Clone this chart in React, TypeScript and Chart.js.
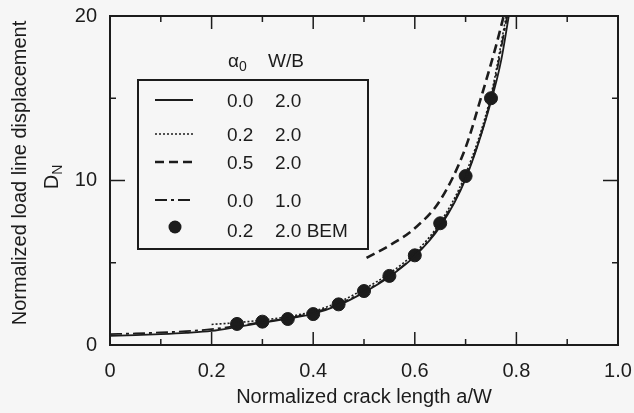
import React, { useEffect, useRef } from "react";
import { Chart, registerables } from "chart.js";

Chart.register(...registerables);

// x positions (a/W) and normalized displacement D_N
const solidX = [0, 0.05, 0.1, 0.15, 0.2, 0.25, 0.3, 0.35, 0.4, 0.45, 0.5, 0.55, 0.6, 0.65, 0.7, 0.75, 0.77, 0.785];
const solidY = [0.55, 0.6, 0.66, 0.74, 0.86, 1.1, 1.36, 1.6, 1.9, 2.42, 3.2, 4.15, 5.4, 7.2, 10.1, 14.8, 17.3, 20];

const dottedX = [0.2, 0.25, 0.3, 0.35, 0.4, 0.45, 0.5, 0.55, 0.6, 0.65, 0.7, 0.75, 0.78];
const dottedY = [1.25, 1.36, 1.52, 1.72, 2.05, 2.6, 3.4, 4.35, 5.6, 7.45, 10.4, 15.2, 20];

const dashedX = [0.505, 0.55, 0.6, 0.65, 0.7, 0.73, 0.76, 0.775];
const dashedY = [5.3, 6.05, 7.1, 8.8, 12.0, 15.0, 18.2, 20];

const dashDotX = [0, 0.05, 0.1, 0.15, 0.2, 0.25, 0.3, 0.35, 0.4, 0.45, 0.5, 0.55, 0.6, 0.65, 0.7, 0.75, 0.782];
const dashDotY = [0.66, 0.7, 0.76, 0.84, 0.96, 1.16, 1.4, 1.63, 1.95, 2.48, 3.25, 4.2, 5.45, 7.3, 10.2, 15.0, 20];

const bemX = [0.25, 0.3, 0.35, 0.4, 0.45, 0.5, 0.55, 0.6, 0.65, 0.7, 0.75];
const bemY = [1.28, 1.42, 1.58, 1.88, 2.47, 3.28, 4.2, 5.45, 7.4, 10.27, 15.0];

const xTickLabels = ["0", "0.2", "0.4", "0.6", "0.8", "1.0"];
const yTickLabels = ["0", "10", "20"];

const legendAlpha = ["0.0", "0.2", "0.5", "0.0", "0.2"];
const legendWB = ["2.0", "2.0", "2.0", "1.0", "2.0 BEM"];

const xTitle = "Normalized crack length a/W";
const yTitle = "Normalized load line displacement";

const FONT = "'Liberation Sans', Arial, Helvetica, sans-serif";
const INK = "#1c1c1c";

const toPts = (xs: number[], ys: number[]) => xs.map((x, i) => ({ x, y: ys[i] }));

const decorPlugin = {
  id: "decor",
  afterDraw(chart: any) {
    const ctx = chart.ctx as CanvasRenderingContext2D;
    const ca = chart.chartArea;
    const xs = chart.scales.x;
    const ys = chart.scales.y;
    ctx.save();
    ctx.strokeStyle = INK;
    ctx.fillStyle = INK;
    ctx.setLineDash([]);
    // frame
    ctx.lineWidth = 2;
    ctx.strokeRect(ca.left, ca.top, ca.right - ca.left, ca.bottom - ca.top);
    // x ticks (inward, bottom and top)
    ctx.lineWidth = 1.5;
    for (let i = 1; i < 10; i++) {
      const v = i / 10;
      const px = xs.getPixelForValue(v);
      const len = i % 2 === 0 ? 13 : 6;
      ctx.beginPath();
      ctx.moveTo(px, ca.bottom);
      ctx.lineTo(px, ca.bottom - len);
      ctx.moveTo(px, ca.top);
      ctx.lineTo(px, ca.top + len);
      ctx.stroke();
    }
    // y ticks
    for (let v = 5; v < 20; v += 5) {
      const py = ys.getPixelForValue(v);
      const len = v % 10 === 0 ? 15 : 6;
      ctx.beginPath();
      ctx.moveTo(ca.left, py);
      ctx.lineTo(ca.left + len, py);
      ctx.moveTo(ca.right, py);
      ctx.lineTo(ca.right - len, py);
      ctx.stroke();
    }
    // axis titles
    ctx.font = `20px ${FONT}`;
    ctx.textAlign = "center";
    ctx.textBaseline = "middle";
    ctx.fillText(xTitle, 364, 397);
    ctx.save();
    ctx.translate(20, 173);
    ctx.rotate(-Math.PI / 2);
    ctx.fillText(yTitle, 0, 0);
    ctx.restore();
    ctx.save();
    ctx.translate(52, 177);
    ctx.rotate(-Math.PI / 2);
    ctx.textAlign = "left";
    ctx.font = `20px ${FONT}`;
    const dw = ctx.measureText("D").width;
    ctx.fillText("D", -dw / 2 - 5, 0);
    ctx.font = `14px ${FONT}`;
    ctx.fillText("N", dw / 2 - 5, 6);
    ctx.restore();

    // legend
    const bx = 138, by = 80, bw = 230, bh = 169;
    ctx.lineWidth = 2;
    ctx.strokeRect(bx, by, bw, bh);
    ctx.font = `19px ${FONT}`;
    ctx.textAlign = "left";
    ctx.textBaseline = "middle";
    ctx.fillText("\u03b1", 228, 62);
    const aw = ctx.measureText("\u03b1").width;
    ctx.font = `14px ${FONT}`;
    ctx.fillText("0", 228 + aw, 67);
    ctx.font = `19px ${FONT}`;
    ctx.fillText("W/B", 268, 62);
    const rowY = [102, 136, 164, 202, 232];
    const styles: { dash: number[]; w: number }[] = [
      { dash: [], w: 1.8 },
      { dash: [2, 2], w: 1.6 },
      { dash: [9, 5], w: 2.6 },
      { dash: [12, 4, 3, 4], w: 1.8 },
    ];
    for (let i = 0; i < 5; i++) {
      const y = rowY[i];
      if (i < 4) {
        ctx.setLineDash(styles[i].dash);
        ctx.lineWidth = styles[i].w;
        ctx.beginPath();
        ctx.moveTo(155, y - 2);
        ctx.lineTo(193, y - 2);
        ctx.stroke();
        ctx.setLineDash([]);
      } else {
        ctx.beginPath();
        ctx.arc(175, y - 5, 6.5, 0, Math.PI * 2);
        ctx.fill();
      }
      ctx.fillText(legendAlpha[i], 227, y);
      ctx.fillText(legendWB[i], 275, y);
    }
    ctx.restore();
  },
};

export default function App() {
  const ref = useRef<HTMLCanvasElement | null>(null);
  useEffect(() => {
    if (!ref.current) return;
    const tickFont = { family: FONT, size: 20 };
    const chart = new Chart(ref.current, {
      type: "scatter",
      data: {
        datasets: [
          {
            label: "0.0 2.0",
            data: toPts(solidX, solidY),
            showLine: true,
            borderColor: INK,
            borderWidth: 1.8,
            pointRadius: 0,
            cubicInterpolationMode: "monotone",
          },
          {
            label: "0.2 2.0",
            data: toPts(dottedX, dottedY),
            showLine: true,
            borderColor: INK,
            borderWidth: 1.6,
            borderDash: [2, 2],
            pointRadius: 0,
            cubicInterpolationMode: "monotone",
          },
          {
            label: "0.5 2.0",
            data: toPts(dashedX, dashedY),
            showLine: true,
            borderColor: INK,
            borderWidth: 2.6,
            borderDash: [9, 5],
            pointRadius: 0,
            cubicInterpolationMode: "monotone",
          },
          {
            label: "0.0 1.0",
            data: toPts(dashDotX, dashDotY),
            showLine: true,
            borderColor: INK,
            borderWidth: 1.8,
            borderDash: [12, 4, 3, 4],
            pointRadius: 0,
            cubicInterpolationMode: "monotone",
          },
          {
            label: "0.2 2.0 BEM",
            data: toPts(bemX, bemY),
            showLine: false,
            pointRadius: 6.5,
            pointBackgroundColor: INK,
            pointBorderColor: INK,
          },
        ],
      } as any,
      options: {
        animation: false,
        responsive: false,
        maintainAspectRatio: false,
        layout: { padding: { top: 16, right: 16, left: 0, bottom: 0 } },
        plugins: { legend: { display: false }, tooltip: { enabled: false } },
        scales: {
          x: {
            type: "linear",
            min: 0,
            max: 1,
            grid: { display: false, drawTicks: false },
            border: { display: false },
            ticks: {
              stepSize: 0.2,
              padding: 14,
              color: INK,
              font: tickFont,
              maxRotation: 0,
              callback: (v: any) => {
                const i = Math.round(Number(v) / 0.2);
                return xTickLabels[i] ?? "";
              },
            },
            afterFit: (s: any) => {
              s.height = 68;
              s.paddingLeft = 0;
              s.paddingRight = 0;
            },
          },
          y: {
            type: "linear",
            min: 0,
            max: 20,
            grid: { display: false, drawTicks: false },
            border: { display: false },
            ticks: {
              stepSize: 10,
              padding: 13,
              color: INK,
              font: tickFont,
              callback: (v: any) => {
                const i = Math.round(Number(v) / 10);
                return yTickLabels[i] ?? "";
              },
            },
            afterFit: (s: any) => {
              s.width = 110;
              s.paddingTop = 0;
              s.paddingBottom = 0;
            },
          },
        },
      },
      plugins: [decorPlugin],
    });
    return () => chart.destroy();
  }, []);
  return (
    <div style={{ position: "fixed", left: 0, top: 0, width: 634, height: 413, background: "#f6f6f6" }}>
      <canvas ref={ref} width={634} height={413} style={{ width: 634, height: 413, display: "block" }} />
    </div>
  );
}
